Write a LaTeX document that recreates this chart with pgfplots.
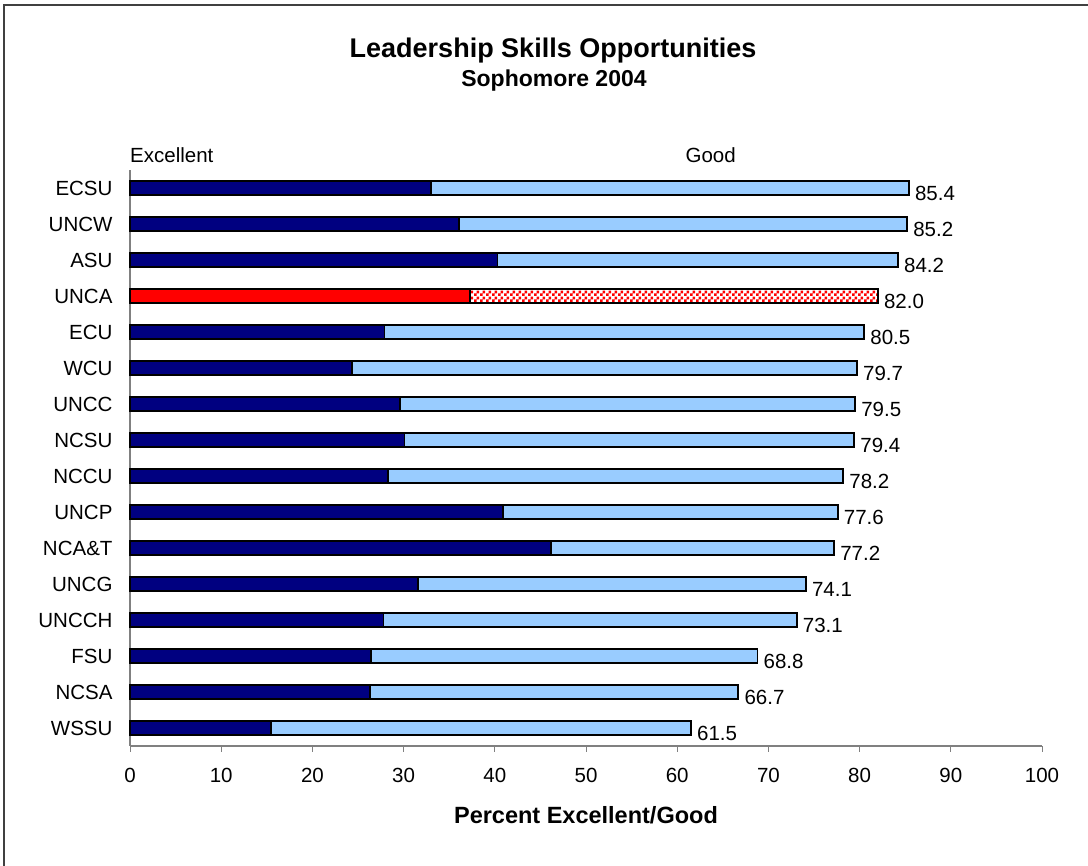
\documentclass[border=0pt]{standalone}
\usepackage{fontspec}
\setmainfont{Liberation Sans}
\usepackage{pgfplots}
\pgfplotsset{compat=1.18}
\usepackage{pgfplotstable}
\usetikzlibrary{patterns.meta}

\definecolor{navy}{HTML}{000080}
\definecolor{sky}{HTML}{99CCFF}
\definecolor{frame}{HTML}{404040}

\pgfdeclarepattern{
  name=chk, type=uncolored,
  bottom left={\pgfpointorigin}, top right={\pgfqpoint{6pt}{6pt}},
  tile size={\pgfqpoint{6pt}{6pt}},
  code={
    \pgfpathrectangle{\pgfpointorigin}{\pgfqpoint{3pt}{3pt}}
    \pgfpathrectangle{\pgfqpoint{3pt}{3pt}}{\pgfqpoint{3pt}{3pt}}
    \pgfusepath{fill}
  }
}

% idx 15 = top row (ECSU), 0 = bottom row (WSSU)
\pgfplotstableread{
idx exc total
15 33.0 85.4
14 36.1 85.2
13 40.3 84.2
11 27.9 80.5
10 24.3 79.7
9  29.6 79.5
8  30.1 79.4
7  28.3 78.2
6  40.9 77.6
5  46.2 77.2
4  31.6 74.1
3  27.8 73.1
2  26.4 68.8
1  26.3 66.7
0  15.5 61.5
}\others

\pgfplotstableread{
idx exc total
12 37.3 82.0
}\unca

\newcommand\txt{\fontsize{20.5}{24}\selectfont}

\begin{document}
\begin{tikzpicture}
\path[use as bounding box] (0pt,0pt) rectangle (1088pt,866pt);
\draw[line width=2pt, frame] (4pt,0pt) -- (4pt,861pt) -- (1088pt,861pt);
\node[anchor=base, inner sep=0pt, font=\bfseries\fontsize{27}{32}\selectfont]
  at (553pt,808pt) {Leadership Skills Opportunities};
\node[anchor=base, inner sep=0pt, font=\bfseries\fontsize{23}{27}\selectfont]
  at (554pt,779.5pt) {Sophomore 2004};
\node[anchor=base, inner sep=0pt, font=\bfseries\fontsize{23.5}{27}\selectfont]
  at (586pt,42pt) {Percent Excellent/Good};

\begin{axis}[
    at={(130pt,120pt)}, anchor=south west,
    scale only axis, width=912pt, height=576pt,
    xmin=0, xmax=100, ymin=-0.5, ymax=15.5,
    axis x line*=bottom, axis y line*=left,
    axis line style={gray, line width=1.3pt, -},
    xtick={0,10,...,100},
    ytick={0,...,15},
    yticklabels={WSSU,NCSA,FSU,UNCCH,UNCG,NCA\&T,UNCP,NCCU,NCSU,UNCC,WCU,ECU,UNCA,ASU,UNCW,ECSU},
    tick align=outside,
    x tick style={gray, line width=1pt},
    major tick length=6pt,
    y tick style={draw=none},
    ticklabel style={font=\txt},
    /pgf/number format/assume math mode=true,
    xticklabel style={yshift=-13pt},
    yticklabel style={xshift=-8pt},
    clip=false,
    every node near coord/.append style={font=\txt, anchor=west, xshift=2pt, yshift=-5pt, black},
]
  % full bar (Good) in light blue, then Excellent over it
  \addplot[xbar, bar width=14.5pt, bar shift=0pt, fill=sky, draw=black, line width=1.8pt,
    nodes near coords={\pgfmathprintnumber[fixed,fixed zerofill,precision=1]{\pgfplotspointmeta}},
    point meta=explicit]
    table[x=total, y=idx, meta=total] {\others};
  \addplot[xbar, bar width=14.5pt, bar shift=0pt, fill=navy, draw=black, line width=1.8pt]
    table[x=exc, y=idx] {\others};
  % UNCA highlighted
  \addplot[xbar, bar width=14.5pt, bar shift=0pt, pattern={chk}, pattern color=red, draw=black, line width=1.8pt,
    nodes near coords={\pgfmathprintnumber[fixed,fixed zerofill,precision=1]{\pgfplotspointmeta}},
    point meta=explicit]
    table[x=total, y=idx, meta=total] {\unca};
  \addplot[xbar, bar width=14.5pt, bar shift=0pt, fill=red, draw=black, line width=1.8pt]
    table[x=exc, y=idx] {\unca};

  \node[anchor=base west, inner sep=0pt, font=\txt] at (axis cs:0,15.5) [yshift=7.7pt] {Excellent};
  \node[anchor=base west, inner sep=0pt, font=\txt] at (axis cs:60.9,15.5) [yshift=7.7pt] {Good};
\end{axis}
\end{tikzpicture}
\end{document}
